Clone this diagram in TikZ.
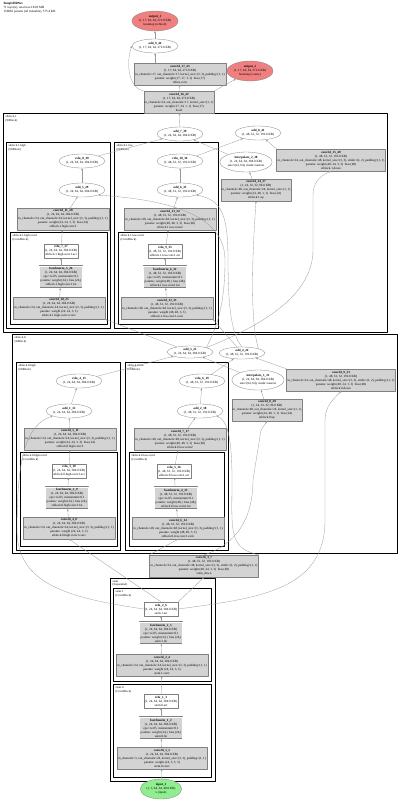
\documentclass[tikz,border=0pt]{standalone}
\usepackage{fontspec}
\setmainfont{Liberation Serif}
\usetikzlibrary{shapes.geometric,arrows.meta}

\definecolor{outred}{HTML}{F08080}
\definecolor{ingreen}{HTML}{90EE90}
\definecolor{laygray}{HTML}{D3D3D3}

\tikzset{
  every node/.style={font=\fontsize{3.2}{4}\selectfont, align=center},
  tensor/.style={ellipse, draw=gray, fill=white, line width=0.3pt, inner sep=0.2pt, minimum height=14},
  layer/.style={rectangle, draw=gray, fill=laygray, line width=0.3pt, inner sep=1pt, minimum height=22},
  act/.style={rectangle, draw=gray, fill=white, line width=0.3pt, inner sep=1pt, minimum height=14},
  norm/.style={layer, double=white, double distance=0.5pt},
  outnode/.style={tensor, fill=outred, minimum height=20},
  innode/.style={tensor, fill=ingreen, minimum height=20},
  grp/.style={draw=black, line width=1pt},
  glabel/.style={anchor=north west, align=left, inner sep=0.4pt, font=\fontsize{3}{3.6}\selectfont},
  link/.style={draw=gray!80, line width=0.3pt, -{Stealth[length=2.2pt,width=1.8pt]}}
}

\begin{document}
\begin{tikzpicture}[x=1pt,y=-1pt,line cap=round,line join=round]
  \useasboundingbox (0,0) rectangle (400,801);
  \node[glabel, font=\fontsize{3.2}{3.8}\selectfont] (title) at (3,2)
    {\textbf{SimpleHRNet}\\71 layer(s), total size 18.02 MB\\150063 params (all trainable), 575.4 KB};

  % clusters
  \draw[grp] (3,113) rectangle (387,332);
  \node[glabel] (gst1) at (5,115) {stblock.1\\(StBlock)};
  \draw[grp] (6,142) rectangle (110,328);
  \node[glabel] (gst1h) at (8,144) {stblock.1.high\\(HrBlock)};
  \draw[grp] (10,232) rectangle (107,324);
  \node[glabel] (gst1hc) at (12,234) {stblock.1.high.conv1\\(ConvBlock)};
  \draw[grp] (114,142) rectangle (218,328);
  \node[glabel] (gst1l) at (116,144) {stblock.1.low\\(HrBlock)};
  \draw[grp] (118,232) rectangle (215,324);
  \node[glabel] (gst1lc) at (120,234) {stblock.1.low.conv1\\(ConvBlock)};

  \draw[grp] (12,334) rectangle (397,553);
  \node[glabel] (gst0) at (14,336) {stblock.0\\(StBlock)};
  \draw[grp] (16,362) rectangle (120,550);
  \node[glabel] (gst0h) at (18,364) {stblock.0.high\\(HrBlock)};
  \draw[grp] (20,452) rectangle (117,546);
  \node[glabel] (gst0hc) at (22,454) {stblock.0.high.conv1\\(ConvBlock)};
  \draw[grp] (125,362) rectangle (228,550);
  \node[glabel] (gst0l) at (127,364) {stblock.0.low\\(HrBlock)};
  \draw[grp] (129,452) rectangle (224,546);
  \node[glabel] (gst0lc) at (131,454) {stblock.0.low.conv1\\(ConvBlock)};

  \draw[grp] (110,578) rectangle (215,781);
  \node[glabel] (gstem) at (112,580) {stem\\(Sequential)};
  \draw[grp] (113,588) rectangle (211,681);
  \node[glabel] (gstem1) at (115,590) {stem.1\\(ConvBlock)};
  \draw[grp] (113,684) rectangle (211,777);
  \node[glabel] (gstem0) at (115,686) {stem.0\\(ConvBlock)};

  % head
  \node[outnode] (out1) at (155,21) {\textbf{output\_1}\\(1, 17, 64, 64, 272.0 KB)\\heatmap (refined)};
  \node[outnode] (out2) at (250,71) {\textbf{output\_2}\\(1, 17, 64, 64, 272.0 KB)\\heatmap (coarse)};
  \node[tensor] (add9) at (155,46) {\textbf{add\_9\_44}\\(1, 17, 64, 64, 272.0 KB)};
  \node[layer, minimum width=86] (conv17) at (180,74) {\textbf{conv2d\_17\_43}\\(1, 17, 64, 64, 272.0 KB)\\in\_channels=17, out\_channels=17, kernel\_size=(3, 3), padding=(1, 1)\\params: weight (17, 17, 3, 3) \ bias (17)\\refine.conv};
  \node[layer, minimum width=67] (conv16) at (179,102) {\textbf{conv2d\_16\_42}\\(1, 17, 64, 64, 272.0 KB)\\in\_channels=24, out\_channels=17, kernel\_size=(1, 1)\\params: weight (17, 24, 1, 1) \ bias (17)\\head};

  % stblock.1
  \node[tensor] (add7) at (180,134) {\textbf{add\_7\_39}\\(1, 24, 64, 64, 384.0 KB)};
  \node[tensor] (add8) at (258,133) {\textbf{add\_8\_41}\\(1, 48, 32, 32, 192.0 KB)};
  \node[tensor] (relu8) at (82,161) {\textbf{relu\_8\_30}\\(1, 24, 64, 64, 384.0 KB)};
  \node[tensor] (add5) at (82,190) {\textbf{add\_5\_29}\\(1, 24, 64, 64, 384.0 KB)};
  \node[layer] (conv11) at (63,219) {\textbf{conv2d\_11\_28}\\(1, 24, 64, 64, 384.0 KB)\\in\_channels=24, out\_channels=24, kernel\_size=(3, 3), padding=(1, 1)\\params: weight (24, 24, 3, 3) \ bias (24)\\stblock.1.high.conv2};
  \node[act] (relu7) at (61,251) {\textbf{relu\_7\_27}\\(1, 24, 64, 64, 384.0 KB)\\stblock.1.high.conv1.act};
  \node[norm] (bn5) at (61,277) {\textbf{batchnorm\_5\_26}\\(1, 24, 64, 64, 384.0 KB)\\eps=1e-05, momentum=0.1\\params: weight (24,) \ bias (24,)\\stblock.1.high.conv1.bn};
  \node[layer] (conv10) at (59,308) {\textbf{conv2d\_10\_25}\\(1, 24, 64, 64, 384.0 KB)\\in\_channels=24, out\_channels=24, kernel\_size=(3, 3), padding=(1, 1)\\params: weight (24, 24, 3, 3)\\stblock.1.high.conv1.conv};
  \node[tensor] (relu10) at (180,161) {\textbf{relu\_10\_36}\\(1, 48, 32, 32, 192.0 KB)};
  \node[tensor] (add6) at (180,190) {\textbf{add\_6\_35}\\(1, 48, 32, 32, 192.0 KB)};
  \node[layer] (conv13) at (170,219) {\textbf{conv2d\_13\_34}\\(1, 48, 32, 32, 192.0 KB)\\in\_channels=48, out\_channels=48, kernel\_size=(3, 3), padding=(1, 1)\\params: weight (48, 48, 3, 3) \ bias (48)\\stblock.1.low.conv2};
  \node[act] (relu9) at (165,251) {\textbf{relu\_9\_33}\\(1, 48, 32, 32, 192.0 KB)\\stblock.1.low.conv1.act};
  \node[norm] (bn6) at (165,277) {\textbf{batchnorm\_6\_32}\\(1, 48, 32, 32, 192.0 KB)\\eps=1e-05, momentum=0.1\\params: weight (48,) \ bias (48,)\\stblock.1.low.conv1.bn};
  \node[layer] (conv12) at (167,308) {\textbf{conv2d\_12\_31}\\(1, 48, 32, 32, 192.0 KB)\\in\_channels=48, out\_channels=48, kernel\_size=(3, 3), padding=(1, 1)\\params: weight (48, 48, 3, 3)\\stblock.1.low.conv1.conv};
  \node[tensor, minimum height=20] (interp2) at (246,162) {\textbf{interpolate\_2\_38}\\(1, 24, 64, 64, 384.0 KB)\\size=(64, 64), mode=nearest};
  \node[layer] (conv14) at (256,190) {\textbf{conv2d\_14\_37}\\(1, 24, 32, 32, 96.0 KB)\\in\_channels=48, out\_channels=24, kernel\_size=(1, 1)\\params: weight (24, 48, 1, 1) \ bias (24)\\stblock.1.up};
  \node[layer] (conv15) at (331,160) {\textbf{conv2d\_15\_40}\\(1, 48, 32, 32, 192.0 KB)\\in\_channels=24, out\_channels=48, kernel\_size=(3, 3), stride=(2, 2), padding=(1, 1)\\params: weight (48, 24, 3, 3) \ bias (48)\\stblock.1.down};

  % stblock.0
  \node[tensor, minimum height=12] (add3) at (190,352) {\textbf{add\_3\_22}\\(1, 24, 64, 64, 384.0 KB)};
  \node[tensor, minimum height=12] (add4) at (242,353) {\textbf{add\_4\_24}\\(1, 48, 32, 32, 192.0 KB)};
  \node[tensor] (relu4) at (79,381) {\textbf{relu\_4\_13}\\(1, 24, 64, 64, 384.0 KB)};
  \node[tensor] (add1) at (69,411) {\textbf{add\_1\_12}\\(1, 24, 64, 64, 384.0 KB)};
  \node[layer] (conv5) at (70,439) {\textbf{conv2d\_5\_11}\\(1, 24, 64, 64, 384.0 KB)\\in\_channels=24, out\_channels=24, kernel\_size=(3, 3), padding=(1, 1)\\params: weight (24, 24, 3, 3) \ bias (24)\\stblock.0.high.conv2};
  \node[act] (relu3) at (69,471) {\textbf{relu\_3\_10}\\(1, 24, 64, 64, 384.0 KB)\\stblock.0.high.conv1.act};
  \node[norm] (bn3) at (67,498) {\textbf{batchnorm\_3\_9}\\(1, 24, 64, 64, 384.0 KB)\\eps=1e-05, momentum=0.1\\params: weight (24,) \ bias (24,)\\stblock.0.high.conv1.bn};
  \node[layer] (conv4) at (69,528) {\textbf{conv2d\_4\_8}\\(1, 24, 64, 64, 384.0 KB)\\in\_channels=24, out\_channels=24, kernel\_size=(3, 3), padding=(1, 1)\\params: weight (24, 24, 3, 3)\\stblock.0.high.conv1.conv};
  \node[tensor] (relu6) at (202,381) {\textbf{relu\_6\_19}\\(1, 48, 32, 32, 192.0 KB)};
  \node[tensor] (add2) at (200,411) {\textbf{add\_2\_18}\\(1, 48, 32, 32, 192.0 KB)};
  \node[layer] (conv7) at (180,439) {\textbf{conv2d\_7\_17}\\(1, 48, 32, 32, 192.0 KB)\\in\_channels=48, out\_channels=48, kernel\_size=(3, 3), padding=(1, 1)\\params: weight (48, 48, 3, 3) \ bias (48)\\stblock.0.low.conv2};
  \node[act] (relu5) at (174,471) {\textbf{relu\_5\_16}\\(1, 48, 32, 32, 192.0 KB)\\stblock.0.low.conv1.act};
  \node[norm] (bn4) at (176,498) {\textbf{batchnorm\_4\_15}\\(1, 48, 32, 32, 192.0 KB)\\eps=1e-05, momentum=0.1\\params: weight (48,) \ bias (48,)\\stblock.0.low.conv1.bn};
  \node[layer] (conv6) at (178,528) {\textbf{conv2d\_6\_14}\\(1, 48, 32, 32, 192.0 KB)\\in\_channels=48, out\_channels=48, kernel\_size=(3, 3), padding=(1, 1)\\params: weight (48, 48, 3, 3)\\stblock.0.low.conv1.conv};
  \node[tensor, minimum height=20] (interp1) at (258,380) {\textbf{interpolate\_1\_21}\\(1, 24, 64, 64, 384.0 KB)\\size=(64, 64), mode=nearest};
  \node[layer] (conv8) at (267,410) {\textbf{conv2d\_8\_20}\\(1, 24, 32, 32, 96.0 KB)\\in\_channels=48, out\_channels=24, kernel\_size=(1, 1)\\params: weight (24, 48, 1, 1) \ bias (24)\\stblock.0.up};
  \node[layer] (conv9) at (341,380) {\textbf{conv2d\_9\_23}\\(1, 48, 32, 32, 192.0 KB)\\in\_channels=24, out\_channels=48, kernel\_size=(3, 3), stride=(2, 2), padding=(1, 1)\\params: weight (48, 24, 3, 3) \ bias (48)\\stblock.0.down};

  % stem
  \node[layer] (conv3) at (204,566) {\textbf{conv2d\_3\_7}\\(1, 48, 32, 32, 192.0 KB)\\in\_channels=24, out\_channels=48, kernel\_size=(3, 3), stride=(2, 2), padding=(1, 1)\\params: weight (48, 24, 3, 3) \ bias (48)\\stem\_down};
  \node[act] (relu2) at (161,609) {\textbf{relu\_2\_6}\\(1, 24, 64, 64, 384.0 KB)\\stem.1.act};
  \node[norm] (bn2) at (161,633) {\textbf{batchnorm\_2\_5}\\(1, 24, 64, 64, 384.0 KB)\\eps=1e-05, momentum=0.1\\params: weight (24,) \ bias (24,)\\stem.1.bn};
  \node[layer] (conv2) at (162,665) {\textbf{conv2d\_2\_4}\\(1, 24, 64, 64, 384.0 KB)\\in\_channels=24, out\_channels=24, kernel\_size=(3, 3), padding=(1, 1)\\params: weight (24, 24, 3, 3)\\stem.1.conv};
  \node[act] (relu1) at (161,701) {\textbf{relu\_1\_3}\\(1, 24, 64, 64, 384.0 KB)\\stem.0.act};
  \node[norm] (bn1) at (161,728) {\textbf{batchnorm\_1\_2}\\(1, 24, 64, 64, 384.0 KB)\\eps=1e-05, momentum=0.1\\params: weight (24,) \ bias (24,)\\stem.0.bn};
  \node[layer] (conv1) at (162,758) {\textbf{conv2d\_1\_1}\\(1, 24, 64, 64, 384.0 KB)\\in\_channels=3, out\_channels=24, kernel\_size=(3, 3), padding=(1, 1)\\params: weight (24, 3, 3, 3)\\stem.0.conv};
  \node[innode] (in1) at (161,789) {\textbf{input\_1}\\(1, 3, 64, 64, 48.0 KB)\\x (input)};

  % stem edges
  \draw[link] (in1) -- (conv1);
  \draw[link] (conv1) -- (bn1);
  \draw[link] (bn1) -- (relu1);
  \draw[link] (relu1) -- (conv2);
  \draw[link] (conv2) -- (bn2);
  \draw[link] (bn2) -- (relu2);
  \draw[link] (relu2.north east) -- (conv3.south);
  \draw[link] (relu2.north) -- (conv4.south);
  \draw[link] (relu2.west) .. controls (70,598) and (17,585) .. (17,530) .. controls (17,460) and (25,425) .. (add1.south west);
  \draw[link] (relu2.east) .. controls (260,598) and (325,590) .. (325,520) -- (325,420) .. controls (325,405) and (335,398) .. (conv9.south);

  % stblock.0 edges
  \draw[link] (conv3.north west) -- (conv6.south);
  \draw[link] (conv3.north) .. controls (235,545) and (253,520) .. (253,480) -- (261,430) -- (conv8.south);
  \draw[link] (conv3.north east) .. controls (228,548) and (232,530) .. (232,480) .. controls (232,440) and (228,420) .. (add2.south east);
  \draw[link] (conv4) -- (bn3);
  \draw[link] (bn3) -- (relu3);
  \draw[link] (relu3) -- (conv5);
  \draw[link] (conv5) -- (add1);
  \draw[link] (add1) -- (relu4);
  \draw[link] (conv6) -- (bn4);
  \draw[link] (bn4) -- (relu5);
  \draw[link] (relu5) -- (conv7);
  \draw[link] (conv7) -- (add2);
  \draw[link] (add2) -- (relu6);
  \draw[link] (conv8) -- (interp1);
  \draw[link] (interp1) -- (add3);
  \draw[link] (relu4) -- (add3);
  \draw[link] (relu6) -- (add4);
  \draw[link] (conv9.north west) -- (add4);

  % stblock.1 edges
  \draw[link] (add3) -- (conv10.south east);
  \draw[link] (add3.north east) .. controls (215,330) and (225,310) .. (225,260) .. controls (225,215) and (170,200) .. (add5.south east);
  \draw[link] (add3.north east) .. controls (250,330) and (313,300) .. (313,250) -- (313,195) .. controls (313,182) and (320,176) .. (conv15.south);
  \draw[link] (add4) -- (conv12.south east);
  \draw[link] (add4.north) .. controls (232,335) and (228,310) .. (228,260) .. controls (228,215) and (222,200) .. (add6.south east);
  \draw[link] (add4.north east) .. controls (250,320) and (252,260) .. (conv14.south);
  \draw[link] (conv10) -- (bn5);
  \draw[link] (bn5) -- (relu7);
  \draw[link] (relu7) -- (conv11);
  \draw[link] (conv11) -- (add5);
  \draw[link] (add5) -- (relu8);
  \draw[link] (conv12) -- (bn6);
  \draw[link] (bn6) -- (relu9);
  \draw[link] (relu9) -- (conv13);
  \draw[link] (conv13) -- (add6);
  \draw[link] (add6) -- (relu10);
  \draw[link] (conv14) -- (interp2);
  \draw[link] (interp2) -- (add7);
  \draw[link] (relu8.north east) -- (add7);
  \draw[link] (relu10.north east) -- (add8);
  \draw[link] (conv15.north west) -- (add8);

  % head edges
  \draw[link] (add7) -- (conv16);
  \draw[link] (conv16) -- (conv17);
  \draw[link] (conv16.north west) .. controls (128,88) and (126,62) .. (add9.west);
  \draw[link] (conv16.north east) -- (out2);
  \draw[link] (conv17.north -| add9) -- (add9);
  \draw[link] (add9) -- (out1);
\end{tikzpicture}
\end{document}
